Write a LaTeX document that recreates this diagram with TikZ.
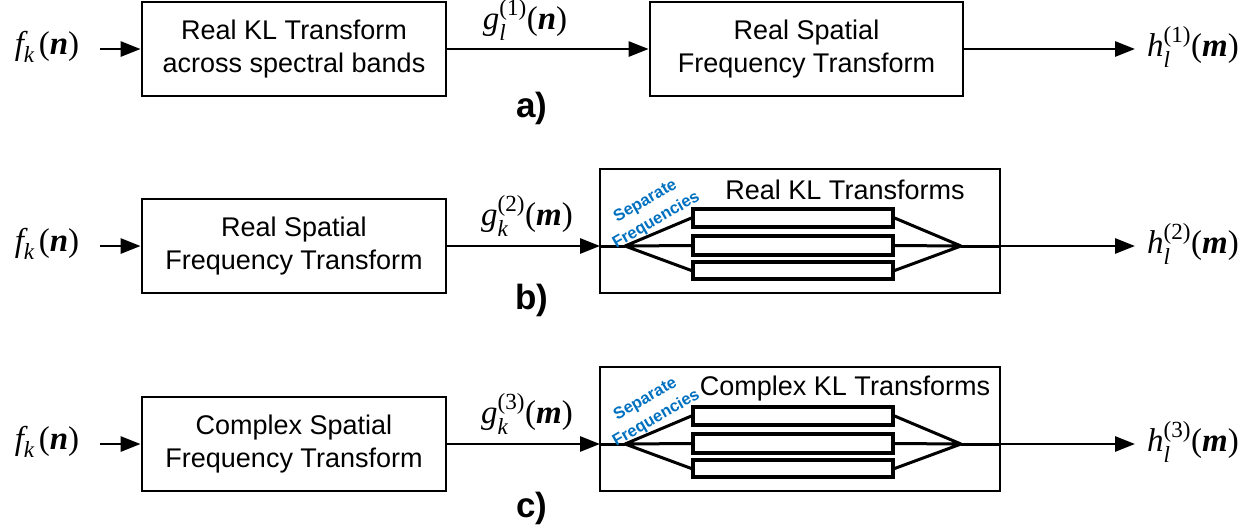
\documentclass[tikz,border=0pt]{standalone}
\usepackage{fontspec}
\usepackage{amsmath}
\setmainfont{Liberation Sans}
\newfontfamily\tms{Liberation Serif}
\usetikzlibrary{arrows.meta}
\newcommand\tv[1]{\text{\tms\itshape #1}}
\newcommand\tu[1]{\text{\tms #1}}
\newcommand\tb[1]{\text{\tms\bfseries\itshape #1}}
\definecolor{sepblue}{RGB}{0,112,192}
\begin{document}
\begin{tikzpicture}[x=1pt,y=-1pt,
  blk/.style={draw,line width=2.8pt,inner sep=0pt,align=center,font=\fontsize{27}{33}\selectfont},
  sub/.style={draw,line width=3.2pt,inner sep=0pt,minimum width=200pt},
  con/.style={line width=3pt},
  arr/.style={line width=2.8pt,-{Triangle[length=20pt,width=15pt]}},
  lab/.style={inner sep=0pt,font=\fontsize{33}{36}\selectfont},
  tag/.style={inner sep=0pt,font=\fontsize{35}{36}\selectfont\bfseries},
  sep/.style={inner sep=0pt,align=center,text=sepblue,rotate=30,font=\fontsize{16.5}{22}\selectfont\bfseries},
  big/.style={font=\fontsize{27}{30}\selectfont,inner sep=0pt}]
\useasboundingbox (0,0) rectangle (1256,531);
% ---------- a)
\node[blk,minimum width=304pt,minimum height=94pt] (a1) at (294,49) {Real KL Transform\\across spectral bands};
\node[blk,minimum width=313pt,minimum height=94pt] (a2) at (806.5,49) {Real Spatial\\Frequency Transform};
\node[lab] (ain) at (47,47) {$\tv{f}_{\tv{k}}\,\tu{(}\tb{n}\tu{)}$};
\node[lab] (aout) at (1193,47) {$\tv{h}_{\tv{l}}^{\tu{(1)}}\tu{(}\tb{m}\tu{)}$};
\node[lab] (ag) at (525,20) {$\tv{g}_{\tv{l}}^{\tu{(1)}}\tu{(}\tb{n}\tu{)}$};
\coordinate (ai) at (100,49);
\coordinate (ao) at (1135,49);
\draw[arr] (ai) -- (a1);
\draw[arr] (a1) -- (a2);
\draw[arr] (a2) -- (ao);
\node[tag] (ta) at (532,108) {a)};
% ---------- b)
\node[blk,minimum width=304pt,minimum height=94pt] (b1) at (294,246) {Real Spatial\\Frequency Transform};
\node[draw,line width=2.8pt,minimum width=400pt,minimum height=124pt,inner sep=0pt] (bb) at (800,231) {};
\node[big] (bt) at (845,190) {Real KL Transforms};
\node[sub,minimum height=18pt] (bs1) at (793,218) {};
\node[sub,minimum height=19pt] (bs2) at (793,245.5) {};
\node[sub,minimum height=17pt] (bs3) at (793,270.5) {};
\coordinate (bl) at (625,246);
\coordinate (br) at (961,246);
\coordinate (bin) at (600,246);
\coordinate (bex) at (1000,246);
\draw[con] (bin) -- (bl);
\draw[con] (bl) -- (bs1.west) (bl) -- (bs2.west) (bl) -- (bs3.west);
\draw[con] (bs1.east) -- (br) (bs2.east) -- (br) (bs3.east) -- (br);
\draw[con] (br) -- (bex);
\node[sep] (bsep) at (651,211) {Separate\\Frequencies};
\node[lab] (bin2) at (47,244) {$\tv{f}_{\tv{k}}\,\tu{(}\tb{n}\tu{)}$};
\node[lab] (bout) at (1193,244) {$\tv{h}_{\tv{l}}^{\tu{(2)}}\tu{(}\tb{m}\tu{)}$};
\node[lab] (bg) at (527,216) {$\tv{g}_{\tv{k}}^{\tu{(2)}}\tu{(}\tb{m}\tu{)}$};
\coordinate (bi) at (100,246);
\coordinate (bo) at (1135,246);
\draw[arr] (bi) -- (b1);
\draw[arr] (b1.east) -- (bin);
\draw[arr] (bex) -- (bo);
\node[tag] (tb) at (532,300) {b)};
% ---------- c)
\node[blk,minimum width=304pt,minimum height=94pt] (c1) at (294,444) {Complex Spatial\\Frequency Transform};
\node[draw,line width=2.8pt,minimum width=400pt,minimum height=124pt,inner sep=0pt] (cb) at (800,429) {};
\node[big] (ct) at (845,389) {Complex KL Transforms};
\node[sub,minimum height=18pt] (cs1) at (793,416) {};
\node[sub,minimum height=19pt] (cs2) at (793,443.5) {};
\node[sub,minimum height=17pt] (cs3) at (793,468.5) {};
\coordinate (cl) at (625,444);
\coordinate (cr) at (961,444);
\coordinate (cin) at (600,444);
\coordinate (cex) at (1000,444);
\draw[con] (cin) -- (cl);
\draw[con] (cl) -- (cs1.west) (cl) -- (cs2.west) (cl) -- (cs3.west);
\draw[con] (cs1.east) -- (cr) (cs2.east) -- (cr) (cs3.east) -- (cr);
\draw[con] (cr) -- (cex);
\node[sep] (csep) at (651,409) {Separate\\Frequencies};
\node[lab] (cin2) at (47,442) {$\tv{f}_{\tv{k}}\,\tu{(}\tb{n}\tu{)}$};
\node[lab] (cout) at (1193,442) {$\tv{h}_{\tv{l}}^{\tu{(3)}}\tu{(}\tb{m}\tu{)}$};
\node[lab] (cg) at (527,414) {$\tv{g}_{\tv{k}}^{\tu{(3)}}\tu{(}\tb{m}\tu{)}$};
\coordinate (ci) at (100,444);
\coordinate (co) at (1135,444);
\draw[arr] (ci) -- (c1);
\draw[arr] (c1.east) -- (cin);
\draw[arr] (cex) -- (co);
\node[tag] (tc) at (532,508) {c)};
\end{tikzpicture}
\end{document}
